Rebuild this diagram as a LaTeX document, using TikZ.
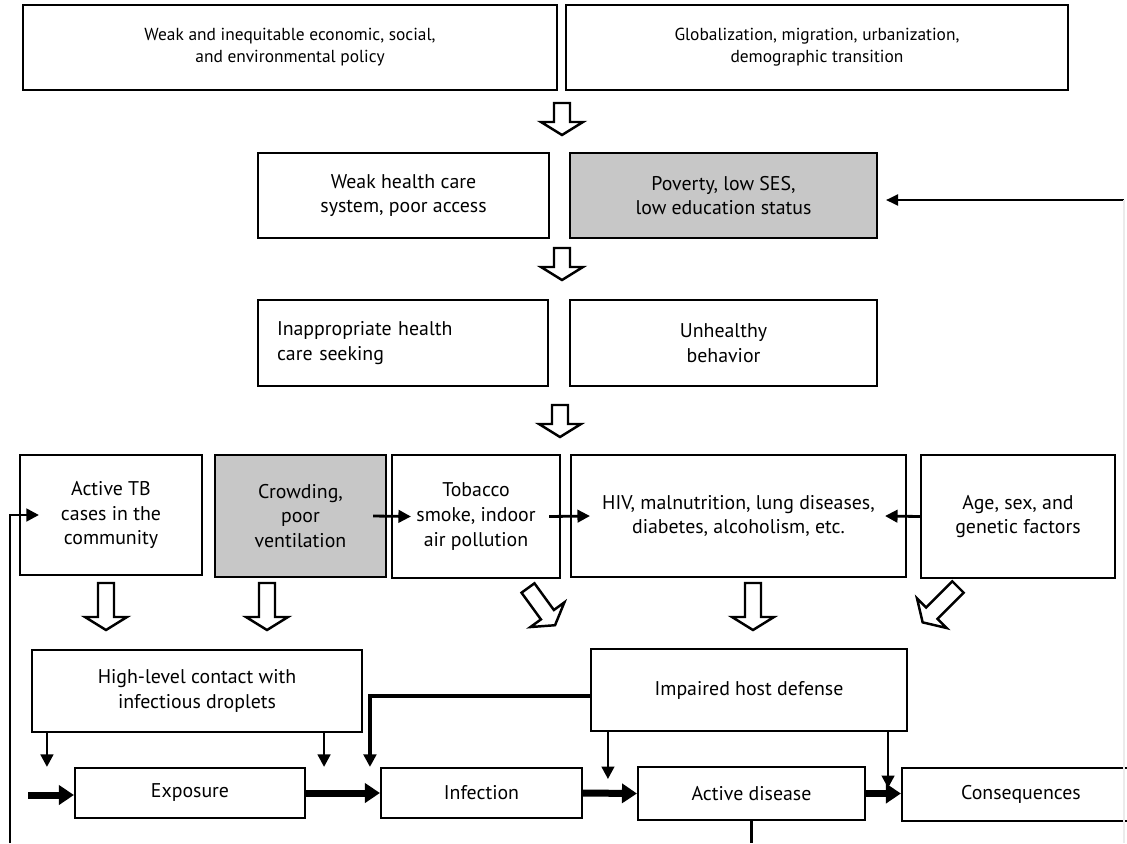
\documentclass[tikz,border=0pt]{standalone}
\usepackage{fontspec}
\setmainfont{PT Sans}
\usetikzlibrary{arrows.meta}

\tikzset{
  box/.style 2 args={draw, line width=1.2pt, align=center, inner sep=2pt,
    minimum width=#1*0.02cm, minimum height=#2*0.02cm,
    font=\fontsize{11.3}{14}\selectfont},
  small text/.style={font=\fontsize{9.9}{12.6}\selectfont},
  grey box/.style={fill=black!22},
  thin arrow/.style={line width=1.6pt, -{Triangle[length=0.25cm,width=0.25cm]}},
  thick arrow/.style={line width=0.14cm, -{Triangle[length=0.3cm,width=0.38cm]}},
  hollow/.style={draw, line width=1.4pt, fill=white, line join=miter},
}

% hollow block arrow: start of shaft, angle, total length
\newcommand{\hollowarrow}[3]{%
  \draw[hollow, shift={(#1)}, rotate=#2]
    (-8,0) -- (-8,#3-13) -- (-21,#3-13) -- (0,#3) -- (21,#3-13) -- (8,#3-13) -- (8,0) -- cycle;}

\begin{document}
\begin{tikzpicture}[x=0.02cm, y=-0.02cm]
			\clip (0,0) rectangle (1127,843);
			\fill[white] (0,0) rectangle (1127,843);

			% top rows
			\node[box={534}{85}, small text] (policy) at (290,47.5) {Weak and inequitable economic, social,\\and environmental policy};
			\node[box={502}{85}, small text] (global) at (817,47.5) {Globalization, migration, urbanization,\\demographic transition};
			\node[box={291}{85}] (care) at (403.5,195.5) {Weak health care\\system, poor access};
			\node[box={307}{85}, grey box] (poverty) at (723.5,195.5) {Poverty, low SES,\\low education status};
			\node[box={290}{86}, align=left, text width=252*0.02cm, inner xsep=19*0.02cm] (seeking) at (403,343) {Inappropriate health\\care seeking};
			\node[box={307}{86}] (behavior) at (723.5,343) {Unhealthy\\behavior};

			% risk factors
			\node[box={182}{120}] (cases) at (111,515) {Active TB\\cases in the\\community};
			\node[box={171}{122}, grey box] (crowding) at (300.5,516) {Crowding,\\poor\\ventilation};
			\node[box={168}{123}] (tobacco) at (476,516.5) {Tobacco\\smoke, indoor\\air pollution};
			\node[box={335}{122}] (hiv) at (738.5,516) {HIV, malnutrition, lung diseases,\\diabetes, alcoholism, etc.};
			\node[box={194}{123}] (age) at (1018,516.5) {Age, sex, and\\genetic factors};

			% mechanisms
			\node[box={330}{82}] (contact) at (197,691) {High-level contact with\\infectious droplets};
			\node[box={316}{82}] (host) at (749,690) {Impaired host defense};

			% stages
			\node[box={230}{50}] (exposure) at (190,793) {Exposure};
			\node[box={201}{50}] (infection) at (481.5,793) {Infection};
			\node[box={227}{53}] (active) at (751.5,793.5) {Active disease};
			\node[box={238}{53}] (conseq) at (1021,794.5) {Consequences};

			% hollow arrows
			\hollowarrow{562,103}{0}{32}
			\hollowarrow{562,248}{0}{32}
			\hollowarrow{560,405}{0}{32}
			\hollowarrow{106,583}{0}{47}
			\hollowarrow{267,583}{0}{47}
			\hollowarrow{528,588}{36}{46}
			\hollowarrow{753,583}{0}{47}
			\hollowarrow{958,587}{-45}{50}

			% small arrows between factors
			\draw[thin arrow] ([xshift=-14*0.02cm]crowding.east) -- ([xshift=20*0.02cm]tobacco.west);
			\draw[thin arrow] ([xshift=-12*0.02cm]tobacco.east) -- ([xshift=20*0.02cm]hiv.west);
			\draw[thin arrow] (age.west) -- ([xshift=-22*0.02cm]hiv.east);

			% mechanisms to stages
			\draw[thin arrow] ([xshift=16*0.02cm]contact.south west) -- ([xshift=16*0.02cm]contact.south west |- exposure.north);
			\draw[thin arrow] ([xshift=-39*0.02cm]contact.south east) -- ([xshift=-39*0.02cm]contact.south east |- exposure.north);
			\draw[line width=2pt, -{Triangle[length=0.25cm,width=0.25cm]}] ([yshift=-6*0.02cm]host.west) -| ([xshift=-10*0.02cm]infection.north west);
			\draw[thin arrow] ([xshift=18*0.02cm]host.south west) -- ++(0,47);
			\draw[thin arrow] ([xshift=-20*0.02cm]host.south east) -- ++(0,56);

			% main chain
			\coordinate (entry) at (28,795);
			\draw[thick arrow] (entry) -- (entry -| exposure.west);
			\draw[thick arrow] (exposure.east) -- (infection.west);
			\draw[thick arrow] (infection.east) -- (active.west);
			\draw[thick arrow] (active.east) -- (active.east -| conseq.west);

			% feedback loops
			\coordinate (loopL) at (10,843);
			\coordinate (loopR) at (1124,200);
			\draw[thin arrow] (loopL) |- ([xshift=20*0.02cm]cases.west);
			\draw[line width=1.6pt] (active.south) -- (active.south |- loopL);
			\draw[line width=1.2pt, shorten >=0.16cm, -{Triangle[length=0.24cm,width=0.22cm]}] (loopR) -- (loopR -| poverty.east);
			\draw[black!8, line width=0.6pt] (loopR) -- (loopR |- loopL);
		\end{tikzpicture}
\end{document}
